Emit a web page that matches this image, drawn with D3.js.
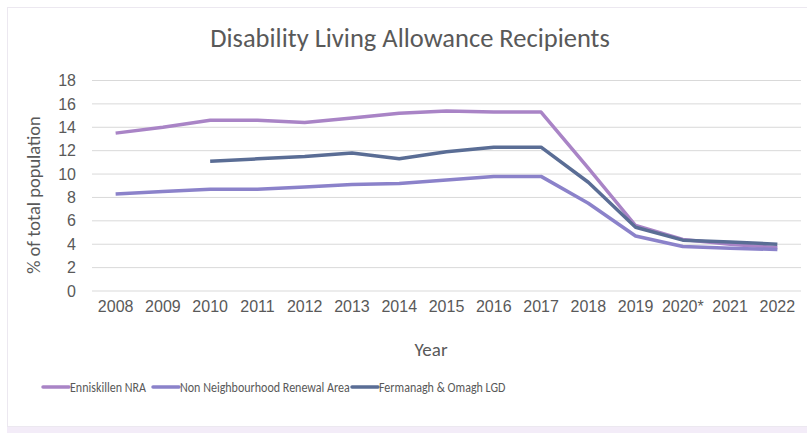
<!DOCTYPE html>
<html>
<head>
<meta charset="utf-8">
<script src="https://cdn.jsdelivr.net/npm/d3@7"></script>
<style>
  body { margin: 0; background: #fff; font-family: Carlito, "Open Sans", "Noto Sans", sans-serif; }
  text { fill: #595959; }
</style>
</head>
<body>
<div id="chart"></div>
<script>
// chart data
const years = ['2008', '2009', '2010', '2011', '2012', '2013', '2014', '2015', '2016', '2017', '2018', '2019', '2020*', '2021', '2022']
const enniskillen = [13.5, 14.0, 14.6, 14.6, 14.4, 14.8, 15.2, 15.4, 15.3, 15.3, 10.5, 5.6, 4.4, 4.0, 3.7]
const nonNra = [8.3, 8.5, 8.7, 8.7, 8.9, 9.1, 9.2, 9.5, 9.8, 9.8, 7.5, 4.7, 3.8, 3.65, 3.55]
const fermanagh = [null, null, 11.1, 11.3, 11.5, 11.8, 11.3, 11.9, 12.3, 12.3, 9.3, 5.45, 4.35, 4.2, 4.0]
const yTicks = [0, 2, 4, 6, 8, 10, 12, 14, 16, 18]

const series = [
  { name: 'Enniskillen NRA', values: enniskillen, color: '#a984c6' },
  { name: 'Non Neighbourhood Renewal Area', values: nonNra, color: '#8b82ca' },
  { name: 'Fermanagh & Omagh LGD', values: fermanagh, color: '#5a6d95' }
]

const w = 807
const h = 433
const plotLeft = 92, plotRight = 801, plotTop = 80.5, plotBottom = 291

const svg = d3.select('#chart')
  .append('svg')
  .attr('width', w)
  .attr('height', h)

// outer frame with soft shadow
svg.append('rect')
  .attr('x', 7).attr('y', 424)
  .attr('width', 800).attr('height', 9)
  .attr('fill', '#f3ecf8')
svg.append('rect')
  .attr('x', 7.5).attr('y', 7.5)
  .attr('width', 805).attr('height', 419)
  .attr('fill', '#fff')
  .attr('stroke', '#ece8f0')

const xScale = d3.scaleBand()
  .domain(years)
  .range([plotLeft, plotRight])

const yScale = d3.scaleLinear()
  .domain([0, 18])
  .range([plotBottom, plotTop])

// gridlines
svg.append('g')
  .selectAll('line')
  .data(yTicks)
  .enter()
  .append('line')
    .attr('x1', plotLeft)
    .attr('x2', plotRight)
    .attr('y1', d => yScale(d))
    .attr('y2', d => yScale(d))
    .attr('stroke', '#d9d9d9')
    .attr('stroke-width', 1)

// y axis labels
const yAxis = d3.axisLeft(yScale).tickValues(yTicks).tickSize(0).tickPadding(0)
svg.append('g')
  .attr('transform', `translate(${plotLeft - 16}, 0)`)
  .call(yAxis)
  .call(g => g.select('.domain').remove())
  .selectAll('text')
    .style('font-size', '16px')
    .style('font-family', 'inherit')

// x axis labels
const xAxis = d3.axisBottom(xScale).tickSize(0).tickPadding(0)
svg.append('g')
  .attr('transform', `translate(0, ${plotBottom + 10})`)
  .call(xAxis)
  .call(g => g.select('.domain').remove())
  .selectAll('text')
    .style('font-size', '16px')
    .style('font-family', 'inherit')

// axis titles
svg.append('text')
  .attr('transform', 'rotate(-90)')
  .attr('x', -195)
  .attr('y', 40)
  .style('text-anchor', 'middle')
  .style('font-size', '18.5px')
  .text('% of total population')

svg.append('text')
  .attr('x', 431)
  .attr('y', 356)
  .style('text-anchor', 'middle')
  .style('font-size', '19px')
  .text('Year')

// title
svg.append('text')
  .attr('x', 410)
  .attr('y', 47)
  .style('text-anchor', 'middle')
  .style('font-size', '26.5px')
  .text('Disability Living Allowance Recipients')

// lines
const line = d3.line()
  .defined(d => d[1] != null)
  .x(d => xScale(d[0]) + xScale.bandwidth() / 2)
  .y(d => yScale(d[1]))

series.forEach(s => {
  svg.append('path')
    .datum(years.map((y, i) => [y, s.values[i]]))
    .attr('fill', 'none')
    .attr('stroke', s.color)
    .attr('stroke-width', 3.5)
    .attr('stroke-linejoin', 'round')
    .attr('d', line)
})

// legend (text is drawn slightly condensed, as in the source)
const legendX = [43, 153, 352]
const legend = svg.append('g')
series.forEach((s, i) => {
  legend.append('line')
    .attr('x1', legendX[i]).attr('x2', legendX[i] + 26)
    .attr('y1', 387).attr('y2', 387)
    .attr('stroke', s.color)
    .attr('stroke-width', 3.5)
    .attr('stroke-linecap', 'round')
  legend.append('text')
    .attr('transform', `translate(${legendX[i] + 27}, 392) scale(0.83, 1)`)
    .style('font-size', '14.5px')
    .text(s.name)
})
</script>
</body>
</html>
